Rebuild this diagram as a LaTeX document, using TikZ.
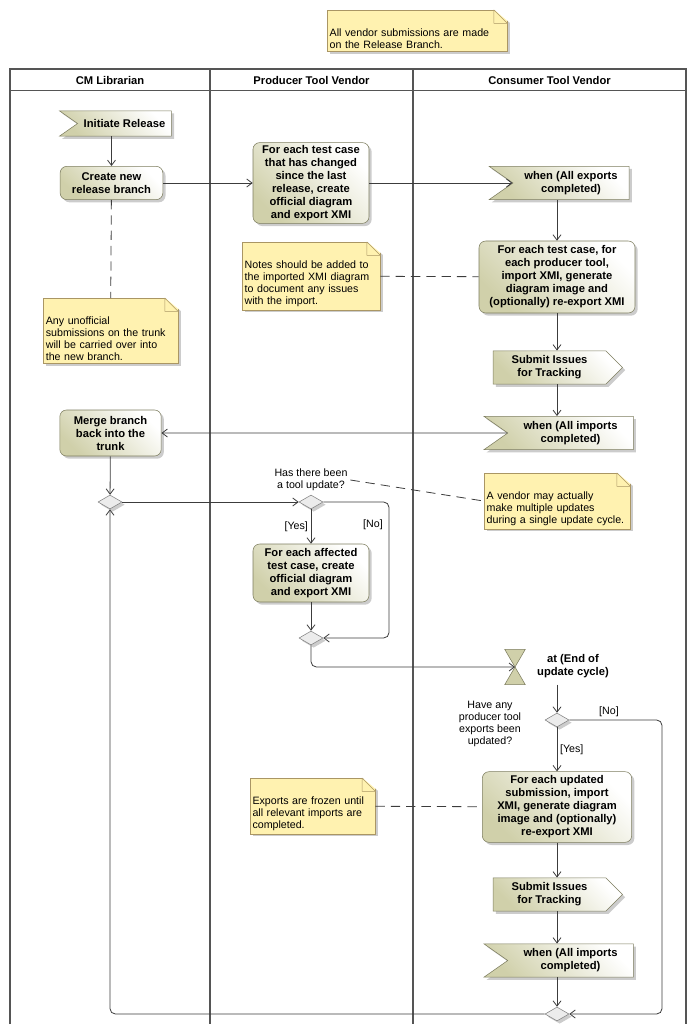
\documentclass[tikz,border=0pt]{standalone}
\usepackage{fontspec}
\setmainfont{Liberation Sans}
\usetikzlibrary{arrows.meta,shapes.geometric,shapes.symbols,shadows}

\definecolor{actdark}{RGB}{208,208,170}
\definecolor{actline}{RGB}{125,125,95}
\definecolor{notefill}{RGB}{255,242,176}
\definecolor{noteline}{RGB}{170,150,100}
\definecolor{lanegray}{RGB}{85,85,85}
\definecolor{flowgray}{RGB}{60,60,60}

% dog-ear on the upper right corner of a note
\newcommand{\foldcorner}[1]{%
  \fill[white] ([xshift=-10pt,yshift=0.4pt]#1.north east)
    -- ([xshift=4pt,yshift=4pt]#1.north east)
    -- ([xshift=2.5pt,yshift=-10pt]#1.north east) -- cycle;
  \filldraw[draw=noteline, fill=notefill, line join=round] ([xshift=-10pt]#1.north east)
    -- ++(0,-10pt) -- ([yshift=-10pt]#1.north east) -- cycle;}

\begin{document}
\begin{tikzpicture}[x=0.75pt, y=-0.75pt, >={Straight Barb[length=4pt,width=6pt]},
  boldtxt/.style={font=\fontsize{8.4}{9.75}\selectfont\bfseries},
  plaintxt/.style={font=\fontsize{8}{9}\selectfont},
  shad/.style={drop shadow={shadow xshift=2pt, shadow yshift=-2pt, fill=black!40}},
  action/.style={boldtxt, rectangle, rounded corners=5pt, draw=actline, shad,
    left color=actdark, right color=white, shading angle=135, align=center, inner sep=2pt},
  accept/.style={boldtxt, signal, signal to=nowhere, signal from=west, signal pointer angle=70,
    draw=actline, shad, left color=actdark, right color=white, shading angle=135,
    align=center, inner sep=2pt, minimum height=25pt},
  sendsig/.style={boldtxt, signal, signal to=east, signal from=nowhere, signal pointer angle=90,
    draw=actline, shad, left color=actdark, right color=white, shading angle=135,
    align=center, inner sep=2pt, minimum height=25pt},
  decision/.style={diamond, draw=gray, fill=gray!15, shad, inner sep=0,
    minimum width=18pt, minimum height=10.5pt},
  note/.style={plaintxt, rectangle, draw=noteline, fill=notefill, shad, align=left,
    inner sep=2pt, anchor=north, execute at begin node={\rule{0pt}{18pt}}},
  lbl/.style={plaintxt, text=black, align=center, inner sep=2pt},
  flow/.style={->, flowgray, line width=0.6pt, rounded corners=4pt},
  anchorline/.style={flowgray, line width=0.6pt, dash pattern=on 7pt off 4.5pt},
  lane/.style={lanegray, line width=1.5pt}]

  \useasboundingbox (0,0) rectangle (696,1034);

  % Swimlanes
  \draw[lane] (10,1024) -- (10,69) -- (686,69) -- (686,1024);
  \draw[lane] (210,69) -- (210,1024);
  \draw[lane] (413,69) -- (413,1024);
  \draw[lanegray, line width=0.75pt] (10,69) -- (686,69);
  \draw[lanegray, line width=0.75pt] (10,91) -- (686,91);
  \node[boldtxt] (hcm) at (110,80) {CM Librarian};
  \node[boldtxt] (hprod) at (311.5,80) {Producer Tool Vendor};
  \node[boldtxt] (hcons) at (549.5,80) {Consumer Tool Vendor};

  % Notes
  \node[note, text width=131pt] (nvendor) at (417,10) {All vendor submissions are made\\on the Release Branch.};
  \node[note, text width=97pt] (ntrunk) at (110.5,298) {Any unofficial\\submissions on the trunk\\will be carried over into\\the new branch.};
  \node[note, text width=99.5pt] (nxmi) at (311,242) {Notes should be added to\\the imported XMI diagram\\to document any issues\\with the import.};
  \node[note, text width=105.5pt] (nmulti) at (557,473) {A vendor may actually\\make multiple updates\\during a single update cycle.};
  \node[note, text width=90pt] (nfrozen) at (312.5,778) {Exports are frozen until\\all relevant imports are\\completed.};
  \foldcorner{nvendor}
  \foldcorner{ntrunk}
  \foldcorner{nxmi}
  \foldcorner{nmulti}
  \foldcorner{nfrozen}

  % CM Librarian
  \node[accept, minimum width=84pt, minimum height=19pt] (init) at (124.5,123.5) {Initiate Release};
  \node[action, minimum width=77pt, minimum height=25pt] (create) at (111.5,183) {Create new\\release branch};
  \node[action, minimum width=76pt, minimum height=34.5pt] (merge) at (110.5,433) {Merge branch\\back into the\\trunk};
  \node[decision] (d1) at (110,502) {};

  % Producer Tool Vendor
  \node[action, minimum width=87pt, minimum height=60pt] (prod1) at (311,183) {For each test case\\that has changed\\since the last\\release, create\\official diagram\\and export XMI};
  \node[decision] (d2) at (311,502) {};
  \node[lbl] (d2lbl) at (311,480) {Has there been\\a tool update?};
  \node[action, minimum width=87pt, minimum height=43.5pt] (prod2) at (311,573) {For each affected\\test case, create\\official diagram\\and export XMI};
  \node[decision] (d3) at (311,638) {};
  \coordinate (noA) at (389,570);
  \node[lbl] (no1) at (373,525) {[No]};

  % Consumer Tool Vendor
  \node[accept, minimum width=105pt] (wexp) at (571,183) {when (All exports\\completed)};
  \node[action, minimum width=117pt, minimum height=54pt] (cimp) at (557,277) {For each test case, for\\each producer tool,\\import XMI, generate\\diagram image and\\(optionally) re-export XMI};
  \node[sendsig, minimum width=97pt] (sub1) at (549.5,367.5) {Submit Issues\\for Tracking};
  \node[accept, minimum width=112pt] (wimp1) at (570.5,433) {when (All imports\\completed)};
  \node[minimum width=15pt, minimum height=26pt, inner sep=0] (hg) at (515,667) {};
  \filldraw[draw=actline, fill=actdark] (hg.north west) -- (hg.north east) -- (hg.south west) -- (hg.south east) -- cycle;
  \node[boldtxt, align=center] (hglbl) at (573,666) {at (End of\\update cycle)};
  \node[decision] (d4) at (557,720) {};
  \node[lbl] (d4lbl) at (490,724) {Have any\\producer tool\\exports been\\updated?};
  \node[lbl] (no2) at (609,712) {[No]};
  \coordinate (noB) at (662,850);
  \node[action, minimum width=112pt, minimum height=53pt] (cupd) at (557,807) {For each updated\\submission, import\\XMI, generate diagram\\image and (optionally)\\re-export XMI};
  \node[sendsig, minimum width=97pt] (sub2) at (549.5,894.5) {Submit Issues\\for Tracking};
  \node[accept, minimum width=112pt] (wimp2) at (570.5,960.5) {when (All imports\\completed)};
  \node[decision] (d5) at (557,1014) {};

  % Flows
  \draw[flow] (init.south -| create.north) -- (create);
  \draw[flow] (create) -- (prod1);
  \draw[flow] (prod1) -- (wexp);
  \draw[flow] (wexp.south -| cimp.north) -- (cimp);
  \draw[flow] (cimp) -- (sub1.north -| cimp.south);
  \draw[flow] (sub1.south -| cimp.south) -- (wimp1.north -| cimp.north);
  \draw[flow] (wimp1) -- (merge);
  \draw[flow] (merge) -- (d1);
  \draw[flow] (d1) -- (d2);
  \draw[flow] (d2) -- node[lbl, left] {[Yes]} (prod2);
  \draw[flow] (d2) -| (noA) |- (d3);
  \draw[flow] (prod2) -- (d3);
  \draw[flow] (d3) |- (hg.center);
  \draw[flow] (hg.south -| d4) -- (d4);
  \draw[flow] (d4) -- node[lbl, right] {[Yes]} (cupd);
  \draw[flow] (d4) -| (noB) |- (d5);
  \draw[flow] (cupd) -- (sub2.north -| cupd.north);
  \draw[flow] (sub2.south -| cupd.south) -- (wimp2.north -| cupd.north);
  \draw[flow] (wimp2.south -| cupd.south) -- (d5);
  \draw[flow] (d5) -| (d1);

  % Note anchors
  \draw[anchorline] (create) -- (ntrunk);
  \draw[anchorline] (nxmi) -- (cimp);
  \draw[anchorline] (d2lbl.east) -- (nmulti.west);
  \draw[anchorline] (nfrozen) -- (cupd);
\end{tikzpicture}
\end{document}
